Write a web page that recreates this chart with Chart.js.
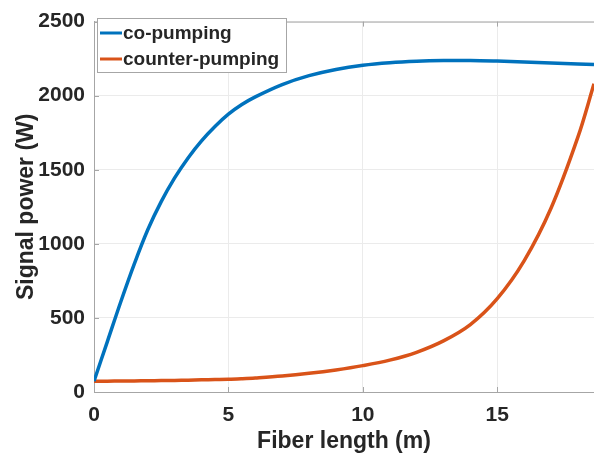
<!DOCTYPE html>
<html>
<head>
<meta charset="utf-8">
<script src="https://cdn.jsdelivr.net/npm/chart.js@4/dist/chart.umd.min.js"></script>
<style>
  html, body { margin: 0; padding: 0; background: #fff; }
  #contenedor { width: 594px; height: 453px; }
</style>
</head>
<body>
<div id="contenedor"><canvas id="grafica"></canvas></div>
<script>
// Datos
const longitudFibra = [0, 0.5, 1, 1.5, 2, 2.5, 3, 3.5, 4, 4.5, 5, 5.5, 6, 7, 8, 9, 10, 11, 12, 13, 14, 15, 16, 17, 18, 18.6];
const coBombeo = [73, 342, 611, 865, 1095, 1285, 1445, 1580, 1695, 1792, 1875, 1940, 1992, 2075, 2135, 2177, 2205, 2222, 2232, 2237, 2238, 2234, 2228, 2221, 2214, 2210];
const contraBombeo = [73, 73, 74, 75, 76, 77, 78, 80, 82, 84, 86, 90, 95, 108, 126, 149, 178, 215, 268, 345, 455, 630, 885, 1240, 1720, 2080];
const etiquetasSerie = ["co-pumping", "counter-pumping"];
const ticksX = [0, 5, 10, 15];
const ticksY = [0, 500, 1000, 1500, 2000, 2500];

const colorAzul = "#0072BD";
const colorNaranja = "#D95319";
const colorEje = "#a6a6a6";
const colorTexto = "#262626";

Chart.defaults.font.family = "'Liberation Sans', Arial, sans-serif";
Chart.defaults.color = colorTexto;

function aPuntos(valores) {
    return longitudFibra.map(function (x, i) {
        return { x: x, y: valores[i] };
    });
}

// Marco superior, marcas de ticks hacia dentro y leyenda tipo MATLAB
const marcoYLeyenda = {
    id: "marcoYLeyenda",
    beforeDatasetsDraw(chart) {
        const { ctx, chartArea, scales } = chart;
        ctx.save();
        ctx.strokeStyle = colorEje;
        ctx.lineWidth = 1;
        ctx.beginPath();
        ctx.moveTo(chartArea.left, chartArea.top + 0.5);
        ctx.lineTo(chartArea.right, chartArea.top + 0.5);
        ticksX.forEach(function (v) {
            const px = Math.round(scales.x.getPixelForValue(v)) + 0.5;
            ctx.moveTo(px, chartArea.bottom);
            ctx.lineTo(px, chartArea.bottom - 5);
            ctx.moveTo(px, chartArea.top);
            ctx.lineTo(px, chartArea.top + 5);
        });
        ticksY.forEach(function (v) {
            const py = Math.round(scales.y.getPixelForValue(v)) + 0.5;
            ctx.moveTo(chartArea.left, py);
            ctx.lineTo(chartArea.left + 5, py);
        });
        ctx.stroke();
        ctx.restore();
    },
    afterDatasetsDraw(chart) {
        const { ctx } = chart;
        ctx.save();
        ctx.fillStyle = "#fff";
        ctx.fillRect(97, 18, 189, 54);
        ctx.strokeStyle = colorEje;
        ctx.lineWidth = 1;
        ctx.strokeRect(97.5, 18.5, 189, 54);
        ctx.font = "bold 19px 'Liberation Sans', Arial, sans-serif";
        ctx.textBaseline = "middle";
        chart.data.datasets.forEach(function (ds, i) {
            const y = 33 + i * 26;
            ctx.strokeStyle = ds.borderColor;
            ctx.lineWidth = 3;
            ctx.beginPath();
            ctx.moveTo(100, y);
            ctx.lineTo(122, y);
            ctx.stroke();
            ctx.fillStyle = colorTexto;
            ctx.fillText(ds.label, 123, y + 1);
        });
        ctx.restore();
    }
};

new Chart(document.getElementById("grafica"), {
    type: "line",
    data: {
        datasets: [
            {
                label: etiquetasSerie[0],
                data: aPuntos(coBombeo),
                borderColor: colorAzul,
                borderWidth: 3.5,
                pointRadius: 0,
                tension: 0.35
            },
            {
                label: etiquetasSerie[1],
                data: aPuntos(contraBombeo),
                borderColor: colorNaranja,
                borderWidth: 3.5,
                pointRadius: 0,
                tension: 0.35
            }
        ]
    },
    options: {
        responsive: true,
        maintainAspectRatio: false,
        animation: false,
        layout: { padding: { left: 0, right: 0, top: 17, bottom: 0 } },
        plugins: {
            legend: { display: false },
            tooltip: { enabled: false }
        },
        scales: {
            x: {
                type: "linear",
                min: 0,
                max: 18.6,
                afterBuildTicks: function (escala) {
                    escala.ticks = ticksX.map(function (v) { return { value: v }; });
                },
                afterFit: function (escala) { escala.height = 61; },
                grid: { color: "#ebebeb", drawTicks: false },
                border: { color: colorEje },
                ticks: {
                    padding: 11,
                    maxRotation: 0,
                    callback: function (v) { return String(v); },
                    font: { size: 21, weight: "bold" }
                },
                title: {
                    display: true,
                    text: "Fiber length (m)",
                    font: { size: 23, weight: "bold", lineHeight: 1 },
                    padding: { top: 0, bottom: 0 }
                }
            },
            y: {
                min: 0,
                max: 2500,
                afterBuildTicks: function (escala) {
                    escala.ticks = ticksY.map(function (v) { return { value: v }; });
                },
                afterFit: function (escala) { escala.width = 94; },
                grid: { color: "#ebebeb", drawTicks: false },
                border: { color: colorEje },
                ticks: {
                    padding: 9,
                    callback: function (v) { return String(v); },
                    font: { size: 21, weight: "bold" }
                },
                title: {
                    display: true,
                    text: "Signal power (W)",
                    font: { size: 23, weight: "bold", lineHeight: 1 },
                    padding: { top: 15, bottom: 0 }
                }
            }
        }
    },
    plugins: [marcoYLeyenda]
});
</script>
</body>
</html>
